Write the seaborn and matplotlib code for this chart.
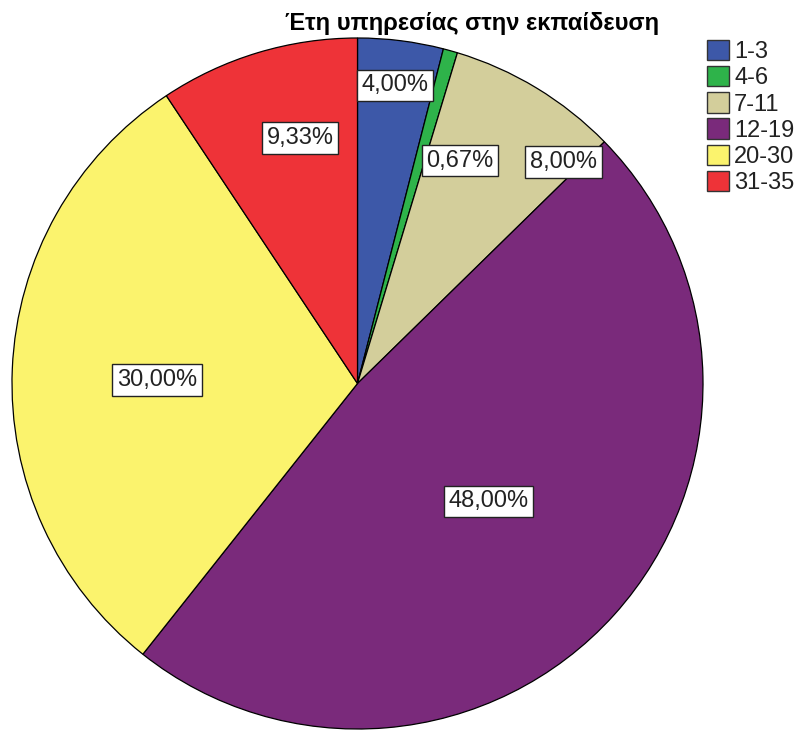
import numpy as np
import matplotlib
matplotlib.use("Agg")
import matplotlib.pyplot as plt
from matplotlib.patches import Patch
import seaborn as sns

# Years of service in education (percent of respondents)
categories = ["1-3", "4-6", "7-11", "12-19", "20-30", "31-35"]
percentages = [4.00, 0.67, 8.00, 48.00, 30.00, 9.33]
slice_colors = ["#3D58A8", "#2EB34A", "#D3CE9B", "#7A2A7B", "#FBF36D", "#EE3338"]
title = "Έτη υπηρεσίας στην εκπαίδευση"

# Placement of the value boxes: angle shift from the slice middle (deg) and radial fraction
label_shift = [0.0, -9.1, -11.7, 0.0, 1.4, -3.6]
label_radius = [0.87, 0.71, 0.875, 0.51, 0.58, 0.73]

sns.set_theme(style="white")
plt.rcParams["font.family"] = ["Liberation Sans", "DejaVu Sans"]

W, H = 799, 731
fig = plt.figure(figsize=(W / 100, H / 100), dpi=100)
fig.patch.set_facecolor("white")

# Pie axes: circle centred at (357.5, 383.5) px with radius 345.5 px
cx, cy, R = 357.5, 383.5, 345.5
ax = fig.add_axes([(cx - R) / W, (H - cy - R) / H, 2 * R / W, 2 * R / H])

palette = sns.color_palette(slice_colors)
wedges, _ = ax.pie(
    percentages,
    colors=palette,
    startangle=90,
    counterclock=False,
    wedgeprops=dict(edgecolor="black", linewidth=0.9),
)
for w in wedges:
    w.set_clip_on(False)
ax.set_xlim(-1, 1)
ax.set_ylim(-1, 1)
ax.set_aspect("equal")
ax.axis("off")

for w, val, shift, rf in zip(wedges, percentages, label_shift, label_radius):
    mid = np.deg2rad((w.theta1 + w.theta2) / 2 + shift)
    txt = f"{val:.2f}%".replace(".", ",")
    ax.text(
        rf * np.cos(mid), rf * np.sin(mid), txt,
        ha="center", va="center", fontsize=17, color="#222222",
        bbox=dict(boxstyle="square,pad=0.2", facecolor="white",
                  edgecolor="#222222", linewidth=1.0),
    )

fig.text(472 / W, 1 - 30 / H, title, ha="center", va="baseline",
         fontsize=17, fontweight="bold", color="black")

handles = [Patch(facecolor=c, edgecolor="#333333", linewidth=1.0) for c in slice_colors]
fig.legend(
    handles, categories,
    loc="upper left", bbox_to_anchor=(707 / W, 1 - 40 / H),
    frameon=False, fontsize=17, borderpad=0, borderaxespad=0,
    handlelength=0.95, handleheight=0.95, handletextpad=0.2,
    labelspacing=0.12, labelcolor="#222222",
)

fig.savefig("out.png", dpi=100, facecolor="white")
